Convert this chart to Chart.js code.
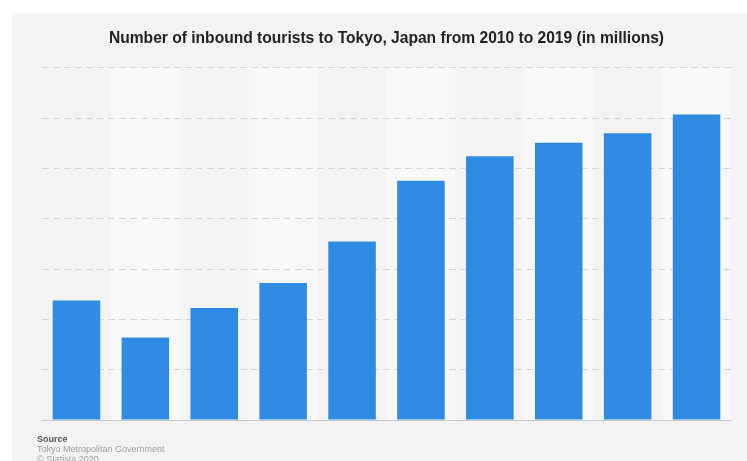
<!DOCTYPE html>
<html>
<head>
<meta charset="utf-8">
<script src="https://cdn.jsdelivr.net/npm/chart.js@4.4.1/dist/chart.umd.min.js"></script>
<style>
  body { margin: 0; background: #fff; }
  #wrap { position: relative; width: 747px; height: 461px; }
  #footer { position: absolute; left: 37px; top: 434px; font-family: "Liberation Sans", Arial, sans-serif; font-size: 9px; line-height: 10px; color: #a0a0a0; }
  #footer b { color: #555; }
</style>
</head>
<body>
<div id="wrap">
  <canvas id="myChart" width="747" height="461"></canvas>
  <div id="footer"><b>Source</b><br>Tokyo Metropolitan Government<br>© Statista 2020</div>
</div>
<script>
var years = ["2010", "2011", "2012", "2013", "2014", "2015", "2016", "2017", "2018", "2019"];
var tourists = [5.94, 4.10, 5.56, 6.81, 8.87, 11.89, 13.10, 13.77, 14.24, 15.18];
var yTicks = [0, 2.5, 5, 7.5, 10, 12.5, 15, 17.5];

// light grey card and alternating column bands
var background = {
  id: "background",
  beforeDraw: function (chart) {
    var c = chart.ctx;
    var area = chart.chartArea;
    var x = chart.scales.x;
    c.save();
    c.fillStyle = "#ffffff";
    c.fillRect(0, 0, chart.width, chart.height);
    c.fillStyle = "#f3f3f3";
    c.fillRect(12, 13, chart.width - 12, chart.height - 13);
    var step = (area.right - area.left) / years.length;
    c.fillStyle = "#f8f8f8";
    for (var i = 1; i < years.length; i += 2) {
      var cx = x.getPixelForValue(i);
      c.fillRect(cx - step / 2, area.top, step, area.bottom - area.top);
    }
    c.restore();
  },
};

var ctx = document.getElementById("myChart");
var myChart = new Chart(ctx, {
  type: "bar",
  data: {
    labels: years,
    datasets: [
      {
        data: tourists,
        label: "Inbound tourists",
        backgroundColor: "#2f8be2",
        categoryPercentage: 1,
        barPercentage: 0.69,
      },
    ],
  },
  options: {
    responsive: false,
    animation: false,
    layout: { padding: { top: 29, left: 42, right: 16, bottom: 41 } },
    plugins: {
      legend: { display: false },
      tooltip: { enabled: false },
      title: {
        display: true,
        text: "Number of inbound tourists to Tokyo, Japan from 2010 to 2019 (in millions)",
        color: "#222",
        font: { family: "'Liberation Sans', Arial, sans-serif", size: 15.6, weight: "bold" },
        padding: { top: 0, bottom: 20 },
      },
    },
    scales: {
      x: {
        ticks: { display: false },
        grid: { display: false, drawTicks: false },
        border: { display: true, color: "#c8c8c8", width: 1 },
      },
      y: {
        min: 0,
        max: 17.5,
        afterBuildTicks: function (axis) {
          axis.ticks = yTicks.map(function (v) { return { value: v }; });
        },
        ticks: { display: false },
        grid: {
          drawTicks: false,
          color: function (c) { return c.tick && c.tick.value === 0 ? "rgba(0,0,0,0)" : "#d6d6d6"; },
        },
        border: { display: false, dash: [7, 4] },
      },
    },
  },
  plugins: [background],
});
</script>
</body>
</html>
